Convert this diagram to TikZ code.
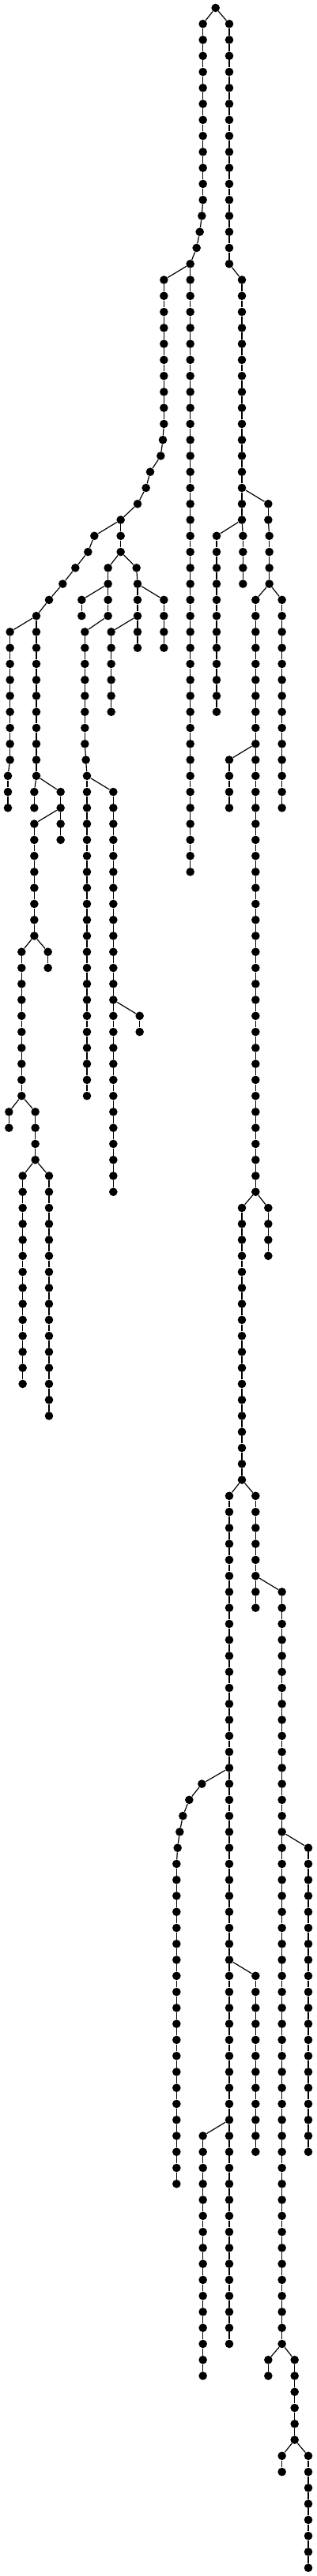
\documentclass[tikz,border=0pt]{standalone}
\tikzset{
  dot/.style={circle,fill=black,draw=none,inner sep=0pt,minimum size=5.3pt},
  edge/.style={draw=black,line width=0.6pt}
}
\newcommand\dotat[3]{\node[dot] (#1) at (#2,#3) {};}
\newcommand\conn[2]{\draw[edge] (#1) -- (#2);}
\newcommand\dotchain[4]{%
  \foreach \r in {#3,...,#4}{\node[dot] (#1-\r) at (#2,\r) {};}%
  \foreach \r in {#3,...,#4}{\ifnum\r>#3\relax\pgfmathtruncatemacro\p{\r-1}\draw[edge] (#1-\p) -- (#1-\r);\fi}%
}
\begin{document}
\begin{tikzpicture}[x=0.16667pt,y=-10.1335pt]
\useasboundingbox (0,-0.4934) rectangle (1200,160.51);
% root and trunk
\dotat{R}{818}{0}
\dotchain{A}{770}{1}{12}
\dotat{A13}{766}{13}\dotat{A14}{758}{14}\dotat{A15}{746}{15}\dotat{A16}{722}{16}
\conn{R}{A-1}\conn{A-12}{A13}\conn{A13}{A14}\conn{A14}{A15}\conn{A15}{A16}
\dotchain{B}{870}{1}{16}\conn{R}{B-1}
% right part
\dotchain{C}{918}{17}{32}\conn{B-16}{C-17}
\dotchain{Cb}{922}{33}{36}\conn{C-32}{Cb-33}
\dotchain{D}{1018}{31}{32}\conn{C-30}{D-31}
\dotchain{Db}{1022}{33}{36}\conn{D-32}{Db-33}
\dotchain{E}{822}{33}{44}\conn{C-32}{E-33}
\dotchain{F}{970}{37}{74}\conn{Db-36}{F-37}
\dotchain{G}{1070}{37}{50}\conn{Db-36}{G-37}
\dotchain{H}{870}{47}{50}\conn{F-46}{H-47}
\dotchain{I}{1018}{75}{78}\conn{F-74}{I-75}
\dotchain{J}{918}{75}{92}\conn{F-74}{J-75}
\dotchain{K}{870}{93}{146}\conn{J-92}{K-93}
\dotchain{L}{970}{93}{100}\conn{J-92}{L-93}
\dotchain{M}{1070}{99}{146}\conn{L-98}{M-99}
\dotat{N111}{766}{111}\dotat{N112}{718}{112}\dotat{N113}{694}{113}\dotat{N114}{682}{114}\dotat{N115}{674}{115}
\dotchain{Nc}{670}{116}{136}
\conn{K-110}{N111}\conn{N111}{N112}\conn{N112}{N113}\conn{N113}{N114}\conn{N114}{N115}\conn{N115}{Nc-116}
\dotchain{O}{970}{123}{134}\conn{K-122}{O-123}
\dotchain{P}{770}{133}{148}\conn{K-132}{P-133}
\dotchain{Q}{1170}{115}{134}\conn{M-114}{Q-115}
\dotchain{S}{1018}{147}{148}\conn{M-146}{S-147}
\dotchain{T}{1118}{147}{152}\conn{M-146}{T-147}
\dotchain{U}{1070}{153}{154}\conn{T-152}{U-153}
\dotchain{V}{1170}{153}{160}\conn{T-152}{V-153}
% left part
\dotchain{W}{722}{17}{54}\conn{A16}{W-17}
\dotchain{X}{622}{17}{26}\conn{A16}{X-17}
\dotat{X27}{618}{27}\dotat{X28}{610}{28}\dotat{X29}{570}{29}\dotat{X30}{554}{30}\dotat{X31}{522}{31}\dotat{X32}{458}{32}
\conn{X-26}{X27}\conn{X27}{X28}\conn{X28}{X29}\conn{X29}{X30}\conn{X30}{X31}\conn{X31}{X32}
\dotat{Y33}{358}{33}\dotat{Y34}{334}{34}\dotat{Y35}{286}{35}\dotat{Y36}{238}{36}\dotat{Y37}{186}{37}\dotat{Y38}{138}{38}
\conn{X32}{Y33}\conn{Y33}{Y34}\conn{Y34}{Y35}\conn{Y35}{Y36}\conn{Y36}{Y37}\conn{Y37}{Y38}
\dotchain{Za}{38}{39}{47}\conn{Y38}{Za-39}
\dotchain{Zb}{30}{48}{50}\conn{Za-47}{Zb-48}
\dotchain{Zc}{138}{39}{48}\conn{Y38}{Zc-39}
\dotchain{Zd}{130}{49}{50}\conn{Zc-48}{Zd-49}
\dotchain{Ze}{230}{49}{52}\conn{Zc-48}{Ze-49}
\dotchain{Zf}{130}{51}{58}\conn{Ze-50}{Zf-51}
\dotchain{Zg}{182}{59}{60}\conn{Zf-58}{Zg-59}
\dotchain{Zh}{82}{59}{68}\conn{Zf-58}{Zh-59}
\dotchain{Zi}{34}{69}{70}\conn{Zh-68}{Zi-69}
\dotchain{Zj}{134}{69}{72}\conn{Zh-68}{Zj-69}
\dotchain{Zk}{86}{73}{86}\conn{Zj-72}{Zk-73}
\dotchain{Zl}{186}{73}{88}\conn{Zj-72}{Zl-73}
\dotchain{Xm}{458}{33}{34}\conn{X32}{Xm-33}
\dotchain{Ba}{410}{35}{38}\conn{Xm-34}{Ba-35}
\dotchain{Bb}{310}{37}{38}\conn{Ba-36}{Bb-37}
\dotchain{Bc}{322}{39}{46}\conn{Ba-38}{Bc-39}
\dotat{Bc47}{326}{47}\dotat{Bc48}{330}{48}\conn{Bc-46}{Bc47}\conn{Bc47}{Bc48}
\dotchain{Bd}{330}{49}{68}\conn{Bc48}{Bd-49}
\dotchain{Be}{430}{49}{74}\conn{Bc48}{Be-49}
\dotchain{Bf}{530}{63}{64}\conn{Be-62}{Bf-63}
\dotat{Ca}{518}{35}\conn{Xm-34}{Ca}
\dotchain{Cc}{522}{36}{40}\conn{Ca}{Cc-36}
\dotchain{Cd}{622}{37}{40}\conn{Cc-36}{Cd-37}
\dotchain{Ce}{422}{39}{44}\conn{Cc-38}{Ce-39}
\end{tikzpicture}
\end{document}
